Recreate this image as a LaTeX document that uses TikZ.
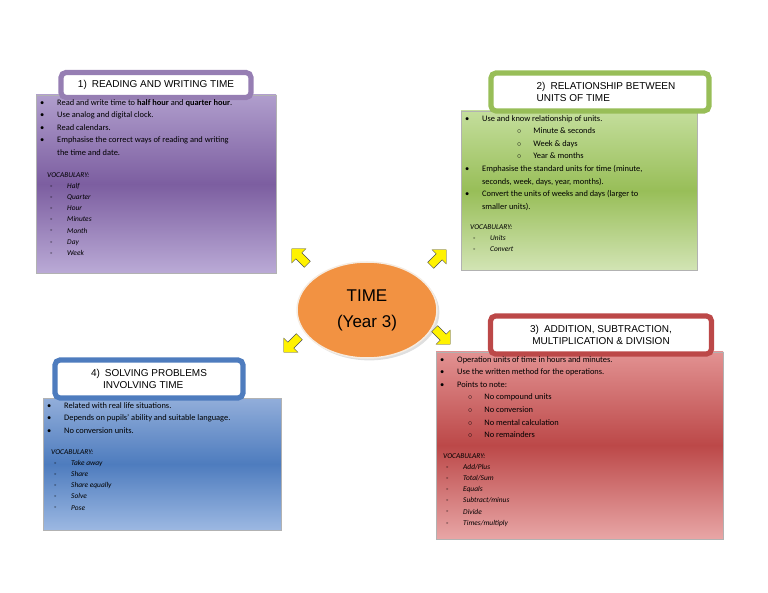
\documentclass[tikz,border=0pt]{standalone}
\usepackage{fontspec}
\setmainfont{Carlito}
\newfontfamily\arialfont{Liberation Sans}
\usetikzlibrary{shapes.arrows,shapes.geometric,shadows}
\definecolor{purpA}{RGB}{176,158,205}
\definecolor{purpB}{RGB}{124,94,160}
\definecolor{purpC}{RGB}{186,170,214}
\definecolor{grnA}{RGB}{196,222,156}
\definecolor{grnB}{RGB}{152,190,88}
\definecolor{grnC}{RGB}{210,228,180}
\definecolor{redA}{RGB}{226,146,146}
\definecolor{redB}{RGB}{188,72,72}
\definecolor{redC}{RGB}{232,166,166}
\definecolor{bluA}{RGB}{146,174,218}
\definecolor{bluB}{RGB}{78,124,190}
\definecolor{bluC}{RGB}{156,184,226}
\definecolor{orng}{RGB}{242,146,66}
\newcommand{\bul}{\makebox[17pt][l]{\textbullet}}
\newcommand{\cir}{\makebox[20pt][l]{\hspace{3pt}\raisebox{.3ex}{\scalebox{.6}{$\circ$}}}}
\begin{document}
\begin{tikzpicture}[x=1pt,y=-1pt,
  panel/.style={draw=gray!60, inner sep=0pt},
  heading/.style={draw=#1, line width=2.6pt, double=white, double distance=0pt,
    rounded corners=5pt, fill=white, align=left, font=\arialfont\fontsize{10}{12}\selectfont},
  body/.style={anchor=north west, align=left, inner sep=0pt,
    font=\fontsize{8.4}{12.6}\selectfont},
  voc/.style={anchor=north west, align=left, inner sep=0pt,
    font=\itshape\fontsize{7.4}{11.2}\selectfont},
  pointer/.style={single arrow, draw=black!70, fill=yellow, minimum height=22pt,
    minimum width=20pt, single arrow head extend=3pt, inner sep=2pt, rotate=#1}]
\useasboundingbox (0,0) rectangle (768,593);
% panels
\shade[top color=purpA, bottom color=purpC, middle color=purpB, draw=gray!60] (36,95) rectangle (276,273);
\shade[top color=grnA, bottom color=grnC, middle color=grnB, draw=gray!60] (461,111) rectangle (697,270);
\shade[top color=redA, bottom color=redC, middle color=redB, draw=gray!60] (436,352) rectangle (723,539);
\shade[top color=bluA, bottom color=bluC, middle color=bluB, draw=gray!60] (43,398) rectangle (281,530);
% headings
\node[heading=purpB!80, minimum width=190pt, minimum height=25pt] (h1) at (156,85) {1)\enspace READING AND WRITING TIME};
\node[heading=grnB, minimum width=218pt, minimum height=38pt] (h2) at (600,92) {\hspace{12pt}2)\enspace RELATIONSHIP BETWEEN\\\hspace{12pt}UNITS OF TIME};
\node[heading=redB, minimum width=221pt, minimum height=38pt, align=center] (h3) at (601,335) {3)\enspace ADDITION, SUBTRACTION,\\ MULTIPLICATION \& DIVISION};
\node[heading=bluB, minimum width=188pt, minimum height=38pt] (h4) at (149,379) {4)\enspace SOLVING PROBLEMS\\\hspace{12pt}INVOLVING TIME};
% texts
\node[body] (t1) at (40,99) {\bul Read and write time to \textbf{half hour} and \textbf{quarter hour}.\\
\bul Use analog and digital clock.\\ \bul Read calendars.\\
\bul Emphasise the correct ways of reading and writing\\ \hspace{17pt}the time and date.};
\node[voc] (v1) at (47,172) {VOCABULARY:\\ \cir Half\\ \cir Quarter\\ \cir Hour\\ \cir Minutes\\ \cir Month\\ \cir Day\\ \cir Week};
\node[body] (t2) at (465,115) {\bul Use and know relationship of units.\\
\hspace{52pt}$\circ$\hspace{12pt}Minute \& seconds\\ \hspace{52pt}$\circ$\hspace{12pt}Week \& days\\ \hspace{52pt}$\circ$\hspace{12pt}Year \& months\\
\bul Emphasise the standard units for time (minute,\\ \hspace{17pt}seconds, week, days, year, months).\\
\bul Convert the units of weeks and days (larger to\\ \hspace{17pt}smaller units).};
\node[voc] (v2) at (470,224) {VOCABULARY:\\ \cir Units\\ \cir Convert};
\node[body] (t3) at (440,356) {\bul Operation units of time in hours and minutes.\\
\bul Use the written method for the operations.\\ \bul Points to note:\\
\hspace{28pt}$\circ$\hspace{12pt}No compound units\\ \hspace{28pt}$\circ$\hspace{12pt}No conversion\\ \hspace{28pt}$\circ$\hspace{12pt}No mental calculation\\ \hspace{28pt}$\circ$\hspace{12pt}No remainders};
\node[voc] (v3) at (443,453) {VOCABULARY:\\ \cir Add/Plus\\ \cir Total/Sum\\ \cir Equals\\ \cir Subtract/minus\\ \cir Divide\\ \cir Times/multiply};
\node[body] (t4) at (47,402) {\bul Related with real life situations.\\
\bul Depends on pupils' ability and suitable language.\\ \bul No conversion units.};
\node[voc] (v4) at (51,449) {VOCABULARY:\\ \cir Take away\\ \cir Share\\ \cir Share equally\\ \cir Solve\\ \cir Pose};
% centre
\node[ellipse, fill=orng, draw=white!85!brown, line width=1.5pt, drop shadow={opacity=.25},
  minimum width=140pt, minimum height=96pt, align=center,
  font=\arialfont\fontsize{17}{26}\selectfont] (time) at (367,310) {TIME\\(Year 3)};
% arrows
\node[pointer=135] (a1) at (301,258) {};
\node[pointer=45] (a2) at (437,259) {};
\node[pointer=-45] (a3) at (441,335) {};
\node[pointer=-135] (a4) at (293,343) {};
\end{tikzpicture}
\end{document}
